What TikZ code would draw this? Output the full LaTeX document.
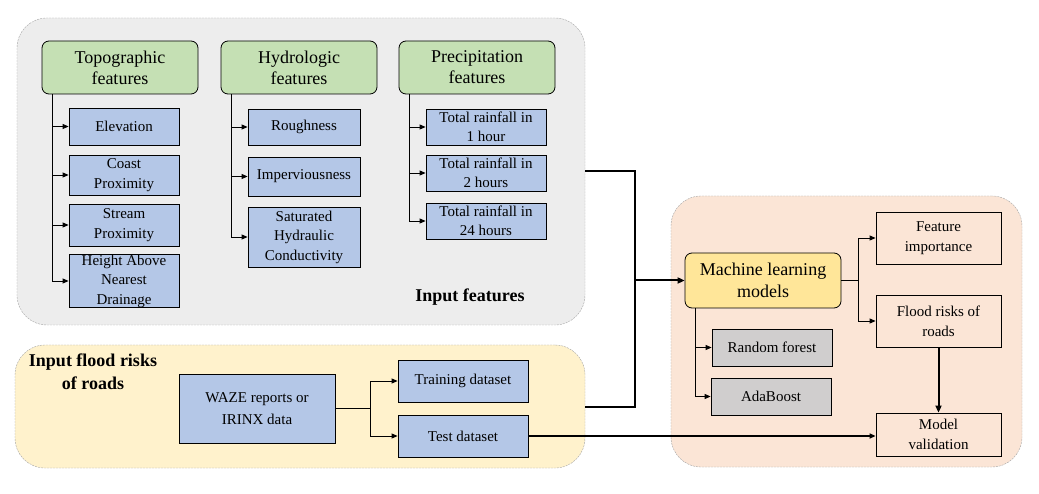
\documentclass[tikz,border=0pt]{standalone}
\usepackage{fontspec}
\setmainfont{LiberationSerif}[Extension=.ttf, UprightFont=*-Regular, BoldFont=*-Bold, ItalicFont=*-Italic, BoldItalicFont=*-BoldItalic]
\usetikzlibrary{positioning, arrows.meta, calc}
\definecolor{featgray}{HTML}{EDEDED}
\definecolor{riskyellow}{HTML}{FFF2CC}
\definecolor{mlpeach}{HTML}{FBE5D6}
\definecolor{headgreen}{HTML}{C5E0B4}
\definecolor{itemblue}{HTML}{B4C7E7}
\definecolor{mlgold}{HTML}{FFE699}
\definecolor{algogray}{HTML}{D0CECE}
\definecolor{panelline}{HTML}{A6A6A6}

\begin{document}
\begin{tikzpicture}[x=1pt, y=-1pt,
  panel/.style={draw=panelline, dash pattern=on 2pt off 1pt, rounded corners=30pt, inner sep=0pt},
  head/.style={draw, line width=0.8pt, rounded corners=7pt, fill=headgreen, minimum width=156pt,
    minimum height=53pt, align=center, inner ysep=0pt, font=\fontsize{18}{21}\selectfont},
  item/.style={draw, line width=0.8pt, fill=itemblue, align=center, inner xsep=1pt, inner ysep=0pt,
    font=\fontsize{15}{19.5}\selectfont},
  outbox/.style={draw, line width=0.8pt, fill=mlpeach, align=center, minimum width=125pt, inner ysep=0pt,
    font=\fontsize{15}{20}\selectfont},
  algo/.style={draw, line width=0.8pt, fill=algogray, minimum width=120pt, minimum height=37pt,
    font=\fontsize{15}{18}\selectfont},
  tag/.style={font=\fontsize{18}{23}\selectfont\bfseries, align=center},
  link/.style={-{Triangle[length=6pt,width=5pt]}, line width=0.8pt},
  bold link/.style={-{Triangle[length=7pt,width=6pt]}, line width=2pt}]
  \useasboundingbox (0,0) rectangle (1039,494);

  % Panels
  \node[panel, fill=featgray, minimum width=568pt, minimum height=307pt] (featpanel) at (301,171.5) {};
  \node[panel, fill=riskyellow, minimum width=570pt, minimum height=123pt] (riskpanel) at (300,406.5) {};
  \node[panel, fill=mlpeach, minimum width=351pt, minimum height=271pt] (mlpanel) at (846.5,331.5) {};
  \node[tag] (featlabel) at (470,297) {Input features};
  \node[tag] (risklabel) at (93,372) {Input flood risks\\of roads};

  % Input features
  \node[head] (topo) at (120,67.5) {Topographic\\features};
  \node[head] (hydro) at (299,67.5) {Hydrologic\\features};
  \node[head] (precip) at (477,67.5) {Precipitation\\features};

  \node[item, minimum width=110pt, minimum height=37pt] (elev) at (124,126.5) {Elevation};
  \node[item, minimum width=110pt, minimum height=40pt] (coast) at (124,175) {Coast\\Proximity};
  \node[item, minimum width=110pt, minimum height=42pt] (stream) at (124,225) {Stream\\Proximity};
  \node[item, minimum width=110pt, minimum height=50pt] (hand) at (124,281) {Height Above\\Nearest\\Drainage};

  \node[item, minimum width=112pt, minimum height=36pt] (rough) at (304,127) {Roughness};
  \node[item, minimum width=112pt, minimum height=39pt] (imperv) at (304,176.5) {Imperviousness};
  \node[item, minimum width=112pt, minimum height=60pt] (ksat) at (304,237) {Saturated\\Hydraulic\\Conductivity};

  \node[item, minimum width=120pt, minimum height=36pt] (rain1) at (486,127) {Total rainfall in\\1 hour};
  \node[item, minimum width=120pt, minimum height=36pt] (rain2) at (486,173) {Total rainfall in\\2 hours};
  \node[item, minimum width=120pt, minimum height=36pt] (rain24) at (486,221) {Total rainfall in\\24 hours};

  \foreach \n in {elev,coast,stream,hand}
    \draw[link] ($(topo.south west)+(11,0)$) |- (\n.west);
  \foreach \n in {rough,imperv,ksat}
    \draw[link] ($(hydro.south west)+(11,0)$) |- (\n.west);
  \foreach \n in {rain1,rain2,rain24}
    \draw[link] ($(precip.south west)+(11,0)$) |- (\n.west);

  % Flood risk data
  \node[item, minimum width=156pt, minimum height=69pt, font=\fontsize{15}{22}\selectfont] (waze) at (257,408.5) {WAZE reports or\\IRINX data};
  \node[item, minimum width=130pt, minimum height=42pt] (train) at (463,381) {Training dataset};
  \node[item, minimum width=130pt, minimum height=42pt] (test) at (463,436) {Test dataset};
  \draw[link] (waze.east) -- ++(35,0) |- (train.west);
  \draw[link] (waze.east) -- ++(35,0) |- (test.west);

  % Machine learning
  \node[draw, line width=0.8pt, rounded corners=7pt, fill=mlgold, minimum width=156pt, minimum height=55pt,
    inner ysep=0pt, align=center, font=\fontsize{18}{22}\selectfont] (ml) at (763,280.5) {Machine learning\\models};
  \node[outbox, minimum height=52pt] (importance) at (938.5,238) {Feature\\importance};
  \node[outbox, minimum height=52pt] (floodrisk) at (938.5,321) {Flood risks of\\roads};
  \node[outbox, minimum height=43pt] (validation) at (938.5,434.5) {Model\\validation};
  \node[algo] (rf) at (772,347.5) {Random forest};
  \node[algo] (ada) at (771,396.5) {AdaBoost};

  \coordinate (merge) at ($(ml.west)+(-50,0)$);
  \draw[line width=2pt] (featpanel.east) -| (merge) |- (riskpanel.east);
  \draw[bold link] (merge) -- (ml.west);
  \draw[link] (ml.east) -- ++(17,0) |- (importance.west);
  \draw[link] (ml.east) -- ++(17,0) |- (floodrisk.west);
  \draw[link] ($(ml.south west)+(11,0)$) |- (rf.west);
  \draw[link] ($(ml.south west)+(11,0)$) |- (ada.west);
  \draw[bold link] (floodrisk.south) -- (validation.north);
  \draw[link, line width=1.6pt] (test.east) -- (test.east -| validation.west);
\end{tikzpicture}
\end{document}
